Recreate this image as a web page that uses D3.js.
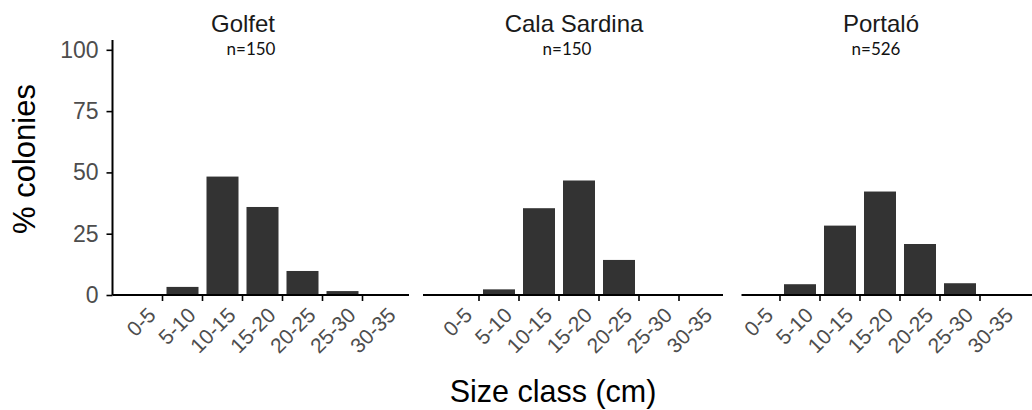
<!DOCTYPE html>
<html>
<head>
<meta charset="utf-8">
<script src="https://cdn.jsdelivr.net/npm/d3@7"></script>
<style>
  body { margin: 0; background: #fff; }
  svg { display: block; }
</style>
</head>
<body>
<svg id="chart"></svg>
<script>
// Data
const sizeClasses = ["0-5", "5-10", "10-15", "15-20", "20-25", "25-30", "30-35"];
const sites = ["Golfet", "Cala Sardina", "Portaló"];
const sampleSizes = ["n=150", "n=150", "n=526"];
const golfet = [0, 3.3, 48.3, 35.9, 9.8, 1.6, 0];
const calaSardina = [0, 2.3, 35.4, 46.7, 14.3, 0, 0];
const portalo = [0, 4.4, 28.3, 42.2, 20.8, 4.8, 0];
const yTicks = [0, 25, 50, 75, 100];

const seriesBySite = [golfet, calaSardina, portalo];

const width = 1032;
const height = 410;

// Layout of each facet (the original panels are not evenly spaced)
const panels = [
    { axisLeft: 112.5, axisRight: 409, bandLeft: 122.5, titleX: 243, nX: 251 },
    { axisLeft: 423, axisRight: 723, bandLeft: 439, titleX: 574, nX: 567 },
    { axisLeft: 741.5, axisRight: 1032, bandLeft: 740, titleX: 881, nX: 876 }
];
const bandWidth = 40;

const svg = d3.select("#chart")
    .attr("width", width)
    .attr("height", height);

const y = d3.scaleLinear()
    .domain([0, 104])
    .range([295, 40]);

const fontMain = "'Liberation Sans', Arial, Helvetica, sans-serif";

panels.forEach((p, i) => {
    const g = svg.append("g");

    const x = d3.scaleBand()
        .domain(sizeClasses)
        .range([p.bandLeft, p.bandLeft + bandWidth * sizeClasses.length])
        .paddingInner(0.2)
        .paddingOuter(0.1);

    // bars
    g.selectAll("rect")
        .data(sizeClasses.map((c, j) => ({ c, v: seriesBySite[i][j] })).filter(d => d.v > 0))
        .enter()
        .append("rect")
        .attr("x", d => x(d.c))
        .attr("width", x.bandwidth())
        .attr("y", d => y(d.v))
        .attr("height", d => y(0) - y(d.v))
        .style("fill", "#333333");

    // x axis line
    g.append("line")
        .attr("x1", p.axisLeft)
        .attr("x2", p.axisRight)
        .attr("y1", y(0))
        .attr("y2", y(0))
        .style("stroke", "#000")
        .style("stroke-width", 2);

    // ticks sit on the boundaries between classes
    const step = x.step();
    const boundaries = sizeClasses.slice(1).map(c => x(c) - (step - x.bandwidth()) / 2);
    g.selectAll(".xtick")
        .data(boundaries)
        .enter()
        .append("line")
        .attr("class", "xtick")
        .attr("x1", d => d)
        .attr("x2", d => d)
        .attr("y1", y(0))
        .attr("y2", y(0) + 6)
        .style("stroke", "#000")
        .style("stroke-width", 1.6);

    // rotated class labels
    g.selectAll(".xlab")
        .data(sizeClasses)
        .enter()
        .append("text")
        .attr("class", "xlab")
        .attr("transform", d => `translate(${x(d) + x.bandwidth() / 2 + 4},${y(0) + 11}) rotate(-45)`)
        .attr("text-anchor", "end")
        .attr("dy", "0.7em")
        .style("font-family", fontMain)
        .style("font-size", "21px")
        .style("fill", "#4d4d4d")
        .text(d => d);

    // facet title and sample size
    g.append("text")
        .attr("x", p.titleX)
        .attr("y", 32)
        .attr("text-anchor", "middle")
        .style("font-family", fontMain)
        .style("font-size", "24px")
        .style("fill", "#1a1a1a")
        .text(sites[i]);

    g.append("text")
        .attr("x", p.nX)
        .attr("y", 55)
        .attr("text-anchor", "middle")
        .style("font-family", "Lato, 'Open Sans', sans-serif")
        .style("font-size", "17px")
        .style("fill", "#111")
        .text(sampleSizes[i]);
});

// y axis on the first panel only
const yAxis = svg.append("g")
    .attr("transform", `translate(${panels[0].axisLeft},0)`)
    .call(d3.axisLeft(y).tickValues(yTicks).tickSize(6).tickPadding(8));

yAxis.select(".domain")
    .attr("d", `M0,${y(0)}V${y(104)}`)
    .style("stroke", "#000")
    .style("stroke-width", 2);
yAxis.selectAll(".tick line")
    .style("stroke", "#000")
    .style("stroke-width", 1.6);
yAxis.selectAll(".tick text")
    .style("font-family", fontMain)
    .style("font-size", "23px")
    .style("fill", "#4d4d4d");

// axis titles
svg.append("text")
    .attr("transform", "translate(35,159) rotate(-90)")
    .attr("text-anchor", "middle")
    .style("font-family", fontMain)
    .style("font-size", "31px")
    .style("fill", "#000")
    .text("% colonies");

svg.append("text")
    .attr("x", 553)
    .attr("y", 402)
    .attr("text-anchor", "middle")
    .style("font-family", fontMain)
    .style("font-size", "30.5px")
    .style("fill", "#000")
    .text("Size class (cm)");
</script>
</body>
</html>
